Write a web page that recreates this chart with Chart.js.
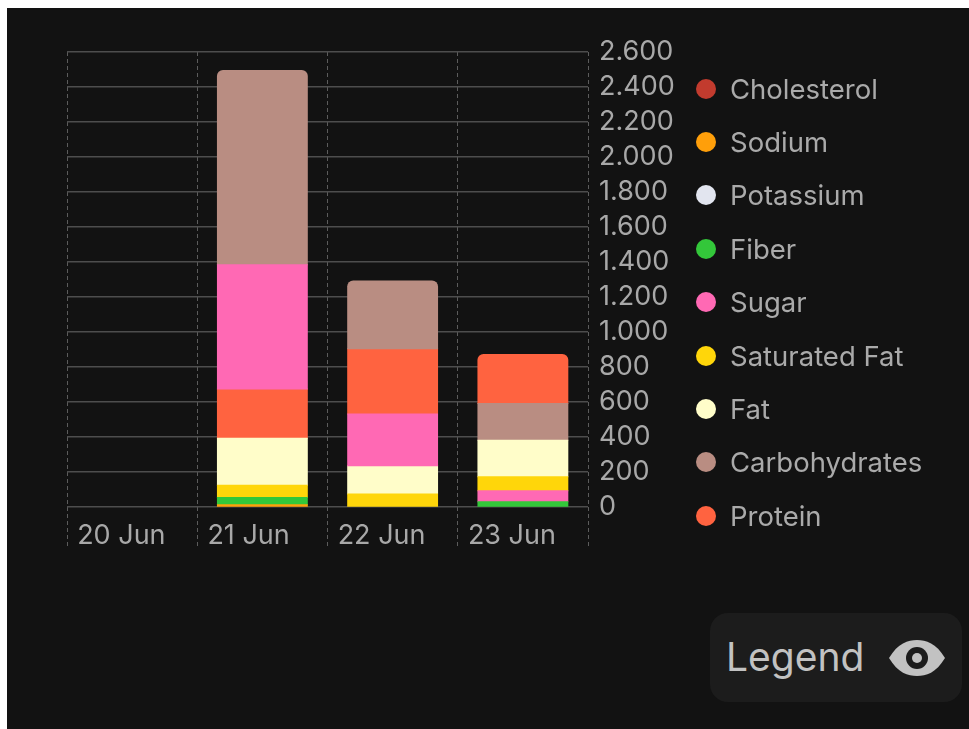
<!DOCTYPE html>
<html>
<head>
<meta charset="utf-8">
<script src="https://cdn.jsdelivr.net/npm/chart.js@4.4.1/dist/chart.umd.min.js"></script>
<style>
  html, body { margin: 0; padding: 0; width: 969px; height: 729px; background: #ffffff; overflow: hidden; }
  #panel { position: fixed; left: 7px; top: 8px; width: 1000px; height: 800px; background: #121212; }
  #chartBox { position: absolute; left: 0; top: 0; width: 680px; height: 567px; }
  #legend { position: absolute; left: 696px; top: 62px; font-family: Inter, "Noto Sans", sans-serif; font-size: 27.5px; color: #aaaaaa; }
  .item { display: flex; align-items: center; height: 53.4px; }
  .dot { width: 20px; height: 20px; border-radius: 50%; margin-right: 14px; }
  #legendBtn { position: absolute; left: 710px; top: 613px; width: 252px; height: 89px; border-radius: 18px; background: #1c1c1c;
               font-family: Inter, "Noto Sans", sans-serif; font-size: 39px; color: #c2c2c2; }
  #legendBtn span { position: absolute; left: 16px; top: 20px; }
  #legendBtn svg { position: absolute; left: 178px; top: 27px; }
</style>
</head>
<body>
<div id="panel"></div>
<div id="chartBox"><canvas id="nutriChart"></canvas></div>
<div id="legend"></div>
<div id="legendBtn"><span>Legend</span>
  <svg width="58" height="36" viewBox="0 0 58 36">
    <path d="M1 18 C10 3 20 0 29 0 C38 0 48 3 57 18 C48 33 38 36 29 36 C20 36 10 33 1 18 Z" fill="#c2c2c2"/>
    <circle cx="29" cy="18" r="11" fill="#1c1c1c"/>
    <circle cx="29" cy="18" r="5" fill="#c2c2c2"/>
  </svg>
</div>
<script>
// giorni e valori per nutriente
const days = ['20 Jun', '21 Jun', '22 Jun', '23 Jun'];
const nutrients = ['Cholesterol', 'Sodium', 'Potassium', 'Fiber', 'Sugar', 'Saturated Fat', 'Fat', 'Carbohydrates', 'Protein'];
const cholesterol = [0, 0, 0, 0];
const sodium = [0, 13, 0, 0];
const potassium = [0, 0, 0, 0];
const fiber = [0, 42, 0, 30];
const sugar = [0, 709, 295, 63];
const saturatedFat = [0, 69, 74, 80];
const fat = [0, 269, 162, 208];
const carbohydrates = [0, 1110, 387, 211];
const protein = [0, 282, 373, 280];
const yTicksMax = 2600;
const yTicksStep = 200;

const colors = ['#c23b2e', '#ff9f0a', '#e2e5ef', '#33c73a', '#ff69b4', '#ffd60a', '#fffdc9', '#b98d82', '#ff6340'];
const series = [cholesterol, sodium, potassium, fiber, sugar, saturatedFat, fat, carbohydrates, protein];

// ogni colonna ha i segmenti ordinati dal piu piccolo al piu grande
const ranges = series.map(() => days.map(() => null));
const isTop = series.map(() => days.map(() => false));
days.forEach((d, j) => {
    const order = series.map((s, i) => i).filter(i => series[i][j] > 0)
        .sort((a, b) => series[a][j] - series[b][j]);
    let base = 0;
    order.forEach((i, k) => {
        ranges[i][j] = [base, base + series[i][j]];
        base += series[i][j];
        if (k === order.length - 1) isTop[i][j] = true;
    });
});

function formatThousands(v) {
    return String(v).replace(/\B(?=(\d{3})+(?!\d))/g, '.');
}

const datasets = nutrients.map((name, i) => ({
    label: name,
    data: ranges[i],
    backgroundColor: colors[i],
    borderWidth: 0,
    borderSkipped: false,
    inflateAmount: 0.5,
    borderRadius: (ctx) => isTop[i][ctx.dataIndex]
        ? { topLeft: 6, topRight: 6, bottomLeft: 0, bottomRight: 0 }
        : { topLeft: 0, topRight: 0, bottomLeft: 0, bottomRight: 0 },
    categoryPercentage: 1,
    barPercentage: 0.69
}));

const tickColor = '#a8a8a8';
const font = { family: 'Inter', size: 27 };

new Chart(document.getElementById('nutriChart'), {
    type: 'bar',
    data: { labels: days, datasets: datasets },
    options: {
        responsive: true,
        maintainAspectRatio: false,
        animation: false,
        layout: { padding: { left: 67, top: 52, right: 0, bottom: 0 } },
        plugins: { legend: { display: false }, tooltip: { enabled: false } },
        scales: {
            x: {
                stacked: true,
                afterFit: (s) => { s.height = 60; },
                grid: {
                    color: '#5c5c5c',
                    lineWidth: 1,
                    tickLength: 41,
                    tickColor: '#5c5c5c',
                    tickBorderDash: [4, 3]
                },
                border: { display: false, dash: [4, 3] },
                ticks: {
                    color: tickColor,
                    font: font,
                    align: 'start',
                    labelOffset: -55,
                    padding: -28,
                    maxRotation: 0,
                    autoSkip: false
                }
            },
            y: {
                position: 'right',
                min: 0,
                max: yTicksMax,
                afterFit: (s) => { s.width = 92; },
                grid: { color: '#4d4d4d', lineWidth: 1.5, drawTicks: false },
                border: { display: false },
                ticks: {
                    stepSize: yTicksStep,
                    autoSkip: false,
                    color: tickColor,
                    font: font,
                    padding: 11,
                    callback: (v) => formatThousands(v)
                }
            }
        }
    }
});

// legenda html costruita dagli stessi array
const legendEl = document.getElementById('legend');
nutrients.forEach((name, i) => {
    const row = document.createElement('div');
    row.className = 'item';
    row.innerHTML = '<div class="dot" style="background:' + colors[i] + '"></div><div>' + name + '</div>';
    legendEl.appendChild(row);
});
</script>
</body>
</html>
